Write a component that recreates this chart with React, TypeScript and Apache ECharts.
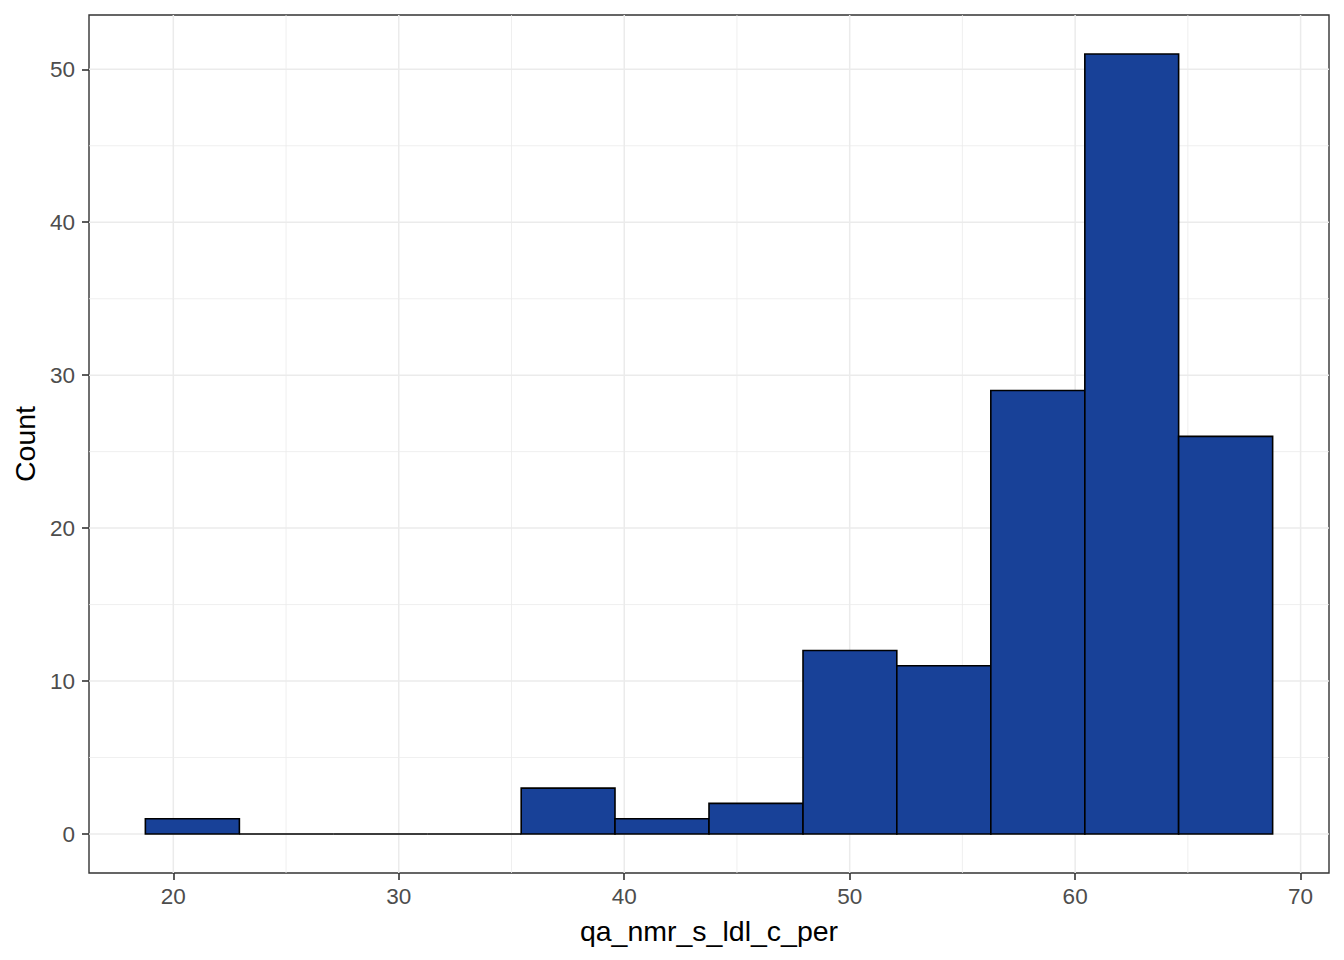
import React, { useEffect, useRef } from "react";
import * as echarts from "echarts";

// Histogram bins (edges) and counts
const binStarts = [18.76, 22.93, 27.09, 31.26, 35.43, 39.59, 43.76, 47.93, 52.09, 56.26, 60.43, 64.59];
const binEnds = [22.93, 27.09, 31.26, 35.43, 39.59, 43.76, 47.93, 52.09, 56.26, 60.43, 64.59, 68.76];
const counts = [1, 0, 0, 0, 3, 1, 2, 12, 11, 29, 51, 26];

const xMajor = [20, 30, 40, 50, 60, 70];
const xMinor = [25, 35, 45, 55, 65];
const yMajor = [0, 10, 20, 30, 40, 50];
const yMinor = [5, 15, 25, 35, 45];

const X_MIN = 16.26;
const X_MAX = 71.26;
const Y_MIN = -2.55;
const Y_MAX = 53.55;

const FONT = "'Liberation Sans', Arial, sans-serif";

export default function App() {
  const ref = useRef<HTMLDivElement>(null);
  useEffect(() => {
    if (!ref.current) return;
    const chart = echarts.init(ref.current, null, { renderer: "svg" });

    const gridData: any[] = [];
    xMajor.forEach((v) => gridData.push(["x", v, 1]));
    xMinor.forEach((v) => gridData.push(["x", v, 0]));
    yMajor.forEach((v) => gridData.push(["y", v, 1]));
    yMinor.forEach((v) => gridData.push(["y", v, 0]));

    const barData = counts.map((c, i) => [binStarts[i], binEnds[i], c]);

    chart.setOption({
      animation: false,
      backgroundColor: "#ffffff",
      textStyle: { fontFamily: FONT },
      grid: {
        left: 89,
        top: 15,
        width: 1240,
        height: 858,
        show: true,
        borderColor: "#333333",
        borderWidth: 1.4,
        backgroundColor: "transparent",
        containLabel: false,
      },
      xAxis: {
        type: "value",
        min: X_MIN,
        max: X_MAX,
        name: "qa_nmr_s_ldl_c_per",
        nameLocation: "middle",
        nameGap: 43,
        nameTextStyle: { color: "#000000", fontSize: 28.5, fontFamily: FONT },
        axisLine: { show: false, onZero: false },
        axisTick: {
          show: true,
          length: 7,
          lineStyle: { color: "#333333", width: 1.6 },
          customValues: xMajor,
        },
        axisLabel: {
          color: "#4D4D4D",
          fontSize: 22.5,
          margin: 12,
          fontFamily: FONT,
          customValues: xMajor,
        },
        splitLine: { show: false },
      },
      yAxis: {
        type: "value",
        min: Y_MIN,
        max: Y_MAX,
        name: "Count",
        nameLocation: "middle",
        nameGap: 48,
        nameRotate: 90,
        nameTextStyle: { color: "#000000", fontSize: 28.5, fontFamily: FONT },
        axisLine: { show: false, onZero: false },
        axisTick: {
          show: true,
          length: 7,
          lineStyle: { color: "#333333", width: 1.6 },
          customValues: yMajor,
        },
        axisLabel: {
          color: "#4D4D4D",
          fontSize: 22.5,
          margin: 14,
          fontFamily: FONT,
          customValues: yMajor,
        },
        splitLine: { show: false },
      },
      series: [
        {
          type: "custom",
          silent: true,
          z: 1,
          data: gridData,
          renderItem: (params: any, api: any) => {
            const dir = api.value(0);
            const v = api.value(1);
            const major = api.value(2) === 1;
            const style = { stroke: "#EBEBEB", lineWidth: major ? 1.5 : 0.8 };
            if (dir === "x") {
              const p0 = api.coord([v, Y_MIN]);
              const p1 = api.coord([v, Y_MAX]);
              return { type: "line", shape: { x1: p0[0], y1: p0[1], x2: p1[0], y2: p1[1] }, style };
            }
            const p0 = api.coord([X_MIN, v]);
            const p1 = api.coord([X_MAX, v]);
            return { type: "line", shape: { x1: p0[0], y1: p0[1], x2: p1[0], y2: p1[1] }, style };
          },
          encode: { x: 1, y: 1 },
        },
        {
          type: "custom",
          silent: true,
          z: 2,
          data: barData,
          encode: { x: [0, 1], y: 2 },
          renderItem: (params: any, api: any) => {
            const x0 = api.value(0);
            const x1 = api.value(1);
            const c = api.value(2);
            const pTop = api.coord([x0, c]);
            const pBot = api.coord([x1, 0]);
            if (c === 0) {
              return {
                type: "line",
                shape: { x1: pTop[0], y1: pBot[1], x2: pBot[0], y2: pBot[1] },
                style: { stroke: "#000000", lineWidth: 1.6 },
              };
            }
            return {
              type: "rect",
              shape: { x: pTop[0], y: pTop[1], width: pBot[0] - pTop[0], height: pBot[1] - pTop[1] },
              style: { fill: "#184198", stroke: "#000000", lineWidth: 1.6 },
            };
          },
        },
      ],
    });
    return () => chart.dispose();
  }, []);
  return (
    <div
      ref={ref}
      style={{ position: "absolute", left: 0, top: 0, width: 1344, height: 960 }}
    />
  );
}
